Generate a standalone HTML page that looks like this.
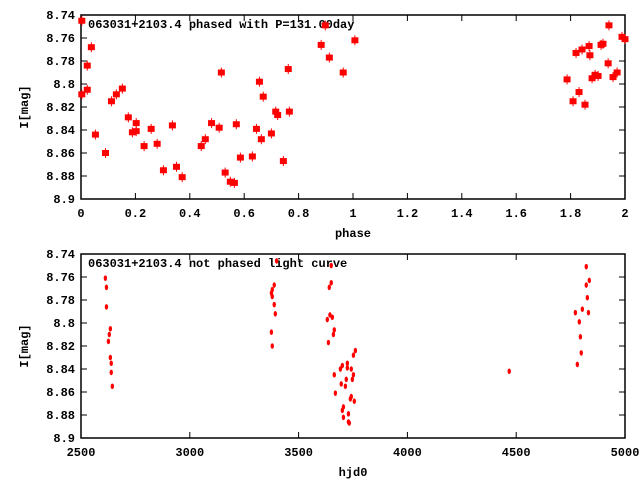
<!DOCTYPE html>
<html><head><meta charset="utf-8"><style>
body{margin:0;background:#fff}
svg text{font-family:"Liberation Mono",monospace;font-size:12px;fill:#000;font-weight:bold}
</style></head><body>
<svg id="c" width="640" height="480" xmlns="http://www.w3.org/2000/svg"></svg>
<script>
const phaseX=[0.003,0.003,0.023,0.023,0.038,0.053,0.090,0.112,0.130,0.152,0.174,0.189,0.203,0.203,0.232,0.258,0.280,0.303,0.336,0.351,0.372,0.442,0.457,0.480,0.508,0.516,0.530,0.549,0.564,0.571,0.586,0.630,0.645,0.656,0.663,0.670,0.700,0.716,0.723,0.744,0.762,0.766,0.883,0.898,0.913,0.964,1.007,1.787,1.809,1.820,1.831,1.842,1.853,1.868,1.871,1.879,1.890,1.901,1.912,1.919,1.938,1.941,1.956,1.971,1.989,2.0];
const phaseMag=[8.745,8.809,8.784,8.805,8.768,8.844,8.860,8.815,8.809,8.804,8.829,8.842,8.841,8.834,8.854,8.839,8.852,8.875,8.836,8.872,8.881,8.854,8.848,8.834,8.838,8.790,8.877,8.885,8.886,8.835,8.864,8.863,8.839,8.798,8.848,8.811,8.843,8.824,8.827,8.867,8.787,8.824,8.766,8.749,8.777,8.790,8.762,8.796,8.815,8.773,8.807,8.770,8.818,8.767,8.775,8.795,8.792,8.793,8.766,8.765,8.782,8.749,8.794,8.790,8.759,8.761];
const hjd=[2612,2617,2617,2635,2630,2626,2635,2639,2639,2644,3399,3388,3379,3375,3379,3388,3393,3375,3379,3650,3650,3641,3644,3632,3655,3664,3660,3637,3761,3752,3724,3701,3724,3692,3742,3664,3752,3719,3747,3696,3715,3669,3742,3738,3756,3706,3701,3729,3706,3729,3733,4468,4822,4836,4822,4827,4804,4772,4832,4790,4795,4799,4781];
const hjdMag=[8.761,8.769,8.786,8.805,8.810,8.816,8.830,8.835,8.843,8.855,8.746,8.767,8.771,8.774,8.777,8.784,8.792,8.808,8.820,8.750,8.765,8.769,8.793,8.797,8.795,8.806,8.810,8.817,8.824,8.828,8.835,8.837,8.839,8.840,8.840,8.845,8.845,8.849,8.849,8.853,8.855,8.861,8.864,8.866,8.868,8.873,8.876,8.879,8.882,8.886,8.887,8.842,8.751,8.763,8.767,8.778,8.788,8.791,8.791,8.799,8.812,8.826,8.836];
const yTicks=["8.74","8.76","8.78","8.8","8.82","8.84","8.86","8.88","8.9"];
const phaseTicks=["0","0.2","0.4","0.6","0.8","1","1.2","1.4","1.6","1.8","2"];
const hjdTicks=["2500","3000","3500","4000","4500","5000"];
const svg=document.getElementById('c');const NS='http://www.w3.org/2000/svg';
function mk(t,a,p){const e=document.createElementNS(NS,t);for(const k in a)e.setAttribute(k,a[k]);(p||svg).appendChild(e);return e;}
function panel(name,top,xmin,xmax,xt,xs,ys,title,xlabel,big){
 const L=81,R=625,T=top,B=top+184;
 const g=mk('g',{});
 const X=v=>L+(v-xmin)/(xmax-xmin)*(R-L);const Y=v=>T+(v-8.74)/0.16*(B-T);
 yTicks.forEach(t=>{const y=Y(parseFloat(t));mk('line',{x1:L,x2:L+6,y1:y,y2:y,stroke:'#000'},g);mk('line',{x1:R,x2:R-6,y1:y,y2:y,stroke:'#000'},g);
  const tx=mk('text',{x:L-6,y:y+4,'text-anchor':'end'},g);tx.textContent=t;});
 xt.forEach(t=>{const x=X(parseFloat(t));mk('line',{x1:x,x2:x,y1:B,y2:B-6,stroke:'#000'},g);mk('line',{x1:x,x2:x,y1:T,y2:T+6,stroke:'#000'},g);
  const tx=mk('text',{x:x,y:B+18,'text-anchor':'middle'},g);tx.textContent=t;});
 const f=mk('rect',{x:L,y:T,width:R-L,height:B-T,fill:'none',stroke:'#000','stroke-width':1.5},g);
 const yl=mk('text',{x:0,y:0,'text-anchor':'middle',transform:`translate(28,${(T+B)/2}) rotate(-90)`},g);yl.textContent='I[mag]';
 const xl=mk('text',{x:(L+R)/2,y:B+38,'text-anchor':'middle'},g);xl.textContent=xlabel;
 const ti=mk('text',{x:88,y:T+13},g);ti.textContent=title;
 xs.forEach((v,i)=>{const x=X(v),y=Y(ys[i]);let m;
  if(big){mk('line',{x1:x,x2:x,y1:y-5,y2:y+5,stroke:'#f00'},g);m=mk('rect',{x:x-3.5,y:y-3,width:7,height:6,fill:'#f00'},g);}
  else{m=mk('ellipse',{cx:x,cy:y,rx:1.7,ry:2.8,fill:'#f00'},g);}
  });
}
panel('phased-light-curve-panel',15,0,2,phaseTicks,phaseX,phaseMag,'063031+2103.4 phased with P=131.00day','phase',true);
panel('unphased-light-curve-panel',254,2500,5000,hjdTicks,hjd,hjdMag,'063031+2103.4 not phased light curve','hjd0',false);
</script>
</body></html>
